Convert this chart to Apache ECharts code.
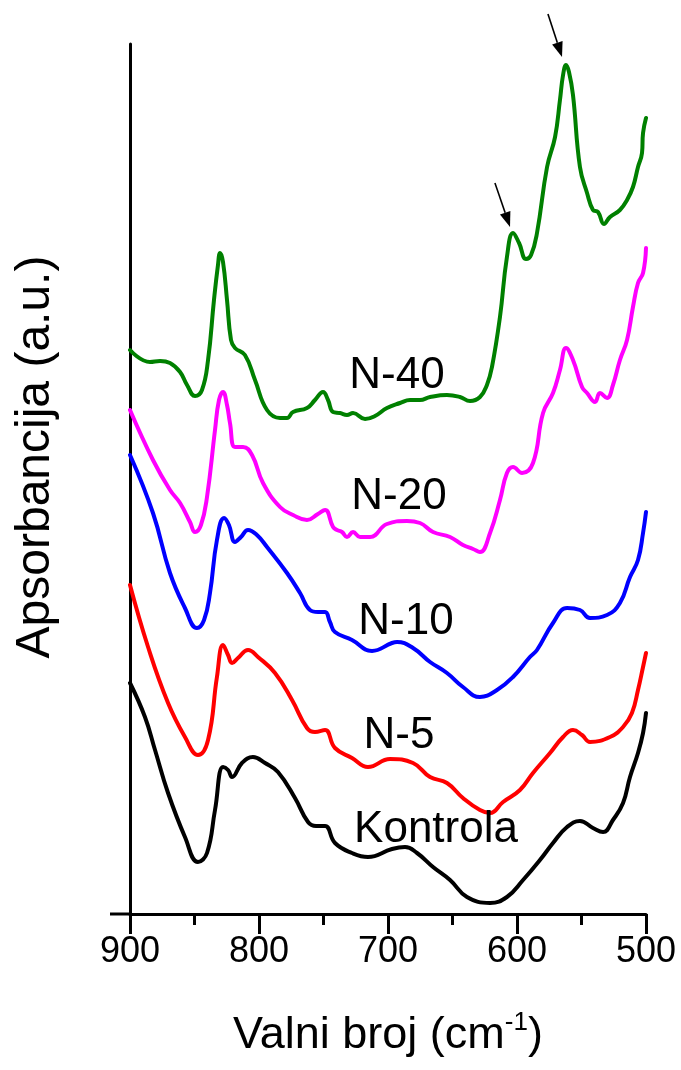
<!DOCTYPE html>
<html><head><meta charset="utf-8">
<script src="https://cdn.jsdelivr.net/npm/echarts@6/dist/echarts.min.js"></script>
<style>html,body{margin:0;padding:0;background:#fff}#c{width:681px;height:1070px}</style>
</head><body><div id="c"></div>
<script>
// Wavenumber (cm-1) and absorbance (a.u., offset for stacking) for each spectrum
const wnN40 = [900,884.5,876.7,869.0,861.2,855.8,849.6,844.2,839.5,834.9,831.8,830.2,827.9,824.8,821.7,818.6,810.9,803.1,793.8,783.7,778.3,773.6,762.8,756.6,750.4,746.5,742.6,737.2,731.8,727.1,717.8,710.1,700.8,690.7,682.9,675.2,667.4,654.3,644.2,636.4,628.7,623.3,619.4,613.2,607.8,603.1,598.4,593.0,589.1,584.5,576.7,570.5,566.7,564.3,562.0,559.7,556.6,551.2,545.7,541.1,537.2,532.6,527.9,520.2,514.7,510.1,506.2,503.1,502.3,500];
const absN40 = [56.4,55.2,55.3,55.1,54.2,52.9,51.8,52.4,55.4,61.4,64.9,66.1,65.2,61.4,57.4,56.6,55.9,53.4,50.4,49.6,49.6,50.2,50.6,51.4,52.2,51.4,50.2,50.1,49.9,50.1,49.5,49.8,50.6,51.1,51.4,51.4,51.7,51.9,51.7,51.3,51.7,52.9,54.7,59.7,65.7,68.1,67.1,65.5,65.9,68.1,74.7,77.7,81.4,83.9,84.9,84.2,81.9,74.7,72.1,70.4,70.2,69.0,69.7,70.4,71.4,72.7,74.7,76.1,78.1,79.6];

const wnN20 = [900,882.2,869.0,861.2,853.5,849.6,845.0,840.3,834.1,831.0,827.9,824.8,822.5,818.6,812.4,805.4,796.9,783.7,773.6,762.8,754.3,748.8,742.6,739.5,735.7,731.8,727.1,721.7,713.9,700.8,685.3,675.2,665.1,651.9,641.9,634.1,628.7,620.9,613.2,607.8,603.1,596.1,587.6,579.8,572.1,566.7,562.0,556.6,549.6,545.7,539.5,535.7,530.2,525.6,520.2,514.7,510.1,506.2,502.3,500];
const absN20 = [50.4,45.4,42.4,41.1,39.2,38.2,38.9,41.7,48.4,51.4,52.2,50.9,49.1,46.7,46.7,45.9,43.1,40.7,39.9,39.4,40.0,40.4,38.7,38.4,38.2,37.7,38.2,37.7,37.7,39.0,39.3,39.1,38.2,37.7,36.9,36.5,36.2,38.1,41.4,44.1,44.7,44.1,45.1,50.1,52.1,54.4,56.6,55.4,52.7,52.1,51.2,52.1,51.6,52.9,55.4,57.4,60.7,63.1,64.1,66.6];

const wnN10 = [900,882.2,869.0,857.4,848.1,842.6,838.0,832.6,827.1,823.3,818.6,814.0,808.5,801.6,793.8,778.3,768.2,760.5,754.3,748.8,745.0,741.1,727.9,712.4,696.9,693.0,680.6,667.4,654.3,641.9,628.7,615.5,603.1,590.0,584.5,572.1,561.2,551.2,543.4,530.2,520.2,512.4,506.2,502.3,500];
const absN10 = [45.9,40.1,34.1,30.6,28.6,29.4,32.1,37.4,39.6,38.9,37.2,37.7,38.4,37.9,36.7,34.1,32.1,30.4,30.2,30.2,29.2,28.2,27.4,26.3,27.1,27.2,26.6,25.2,24.1,22.7,21.7,22.4,23.7,25.7,26.4,29.1,30.6,30.4,29.6,29.9,31.1,33.7,35.4,38.1,40.2];

const wnN5 = [900,886.0,870.5,857.4,847.3,839.5,832.6,827.9,824.0,820.9,816.3,808.5,800.8,787.6,774.4,762.8,756.6,748.8,741.1,727.9,715.5,698.4,680.6,667.4,654.3,641.9,628.7,620.9,610.8,597.7,587.6,574.4,564.3,556.6,549.6,543.4,527.9,517.8,510.9,506.2,502.3,500];
const absN5 = [32.9,26.7,21.1,17.7,15.9,17.4,23.7,26.9,25.9,25.1,25.6,26.4,25.7,24.1,21.4,18.6,18.2,18.4,16.6,15.6,14.7,15.5,15.1,13.7,13.1,11.6,10.4,10.1,11.2,12.4,14.1,16.1,17.7,18.4,17.9,17.2,17.7,18.7,20.1,22.4,24.7,26.1];

const wnKontrola = [900,888.4,880.6,870.5,857.4,847.3,840.3,834.1,827.9,824.0,820.9,813.2,804.7,795.3,785.3,772.1,762.0,755.8,748.8,741.1,727.9,715.5,696.9,686.8,677.5,665.1,651.9,638.8,620.9,607.8,595.3,582.2,572.1,561.2,551.2,541.1,533.3,525.6,517.8,512.4,506.2,502.3,500];
const absKontrola = [23.1,19.7,16.4,12.1,7.7,5.2,6.1,10.4,14.7,14.4,13.7,15.1,15.7,15.1,14.2,11.6,9.2,8.8,8.8,7.1,6.1,5.7,6.5,6.7,6.1,4.7,3.4,1.7,1.1,1.7,3.4,5.4,7.1,8.7,9.3,8.6,8.2,9.4,11.1,13.7,16.1,18.1,20.1];

const seriesNames = ['Kontrola','N-5','N-10','N-20','N-40'];
const xTickValues = [900,800,700,600,500];
// arrows marking the two peaks of N-40 (data coordinates)
const arrowFrom = [[576.0,90.0],[617.1,73.1]];
const arrowTo = [[565.1,85.7],[605.4,68.7]];

const FONT = '"Liberation Sans", Arial, sans-serif';
const colors = {'Kontrola':'#000000','N-5':'#ff0000','N-10':'#0000ff','N-20':'#ff00ff','N-40':'#008000'};
const dataMap = {
  'Kontrola':[wnKontrola,absKontrola],
  'N-5':[wnN5,absN5],
  'N-10':[wnN10,absN10],
  'N-20':[wnN20,absN20],
  'N-40':[wnN40,absN40]
};
function pairs(w,a){return w.map((x,i)=>[x,a[i]]);}

const chart = echarts.init(document.getElementById('c'), null, {renderer:'canvas'});
const series = seriesNames.map(n=>({
  name:n, type:'line', showSymbol:false, smooth:0.45,
  data:pairs(dataMap[n][0],dataMap[n][1]),
  lineStyle:{color:colors[n], width:4, join:'round', cap:'round'}, itemStyle:{color:colors[n]},
  clip:false, z:3
}));

const labelPos = [
  {t:'N-40', x:397, y:376},
  {t:'N-20', x:399, y:497},
  {t:'N-10', x:406, y:622},
  {t:'N-5', x:399, y:736},
  {t:'Kontrola', x:436, y:830}
];

chart.setOption({
  animation:false,
  backgroundColor:'#fff',
  grid:{left:130, right:35, top:44, bottom:156, containLabel:false},
  xAxis:{
    type:'value', min:500, max:900, interval:100, inverse:true,
    axisLine:{show:true, onZero:false, lineStyle:{color:'#000', width:3}},
    axisTick:{show:true, inside:false, length:20, lineStyle:{color:'#000', width:3}},
    minorTick:{show:true, splitNumber:2, length:11, lineStyle:{color:'#000', width:3}},
    splitLine:{show:false}, minorSplitLine:{show:false},
    axisLabel:{color:'#000', fontSize:36, fontFamily:FONT, margin:20,
      formatter:v=>xTickValues.includes(v)?String(v):''},
    name:'{t|Valni broj (cm}{s|-1}{t|)}', nameLocation:'middle', nameGap:96,
    nameTextStyle:{color:'#000', fontFamily:FONT,
      rich:{t:{fontSize:45, fontFamily:FONT, color:'#000', lineHeight:52},
            s:{fontSize:26, fontFamily:FONT, color:'#000', verticalAlign:'top', lineHeight:52}}}
  },
  yAxis:{
    type:'value', min:0, max:87,
    axisLine:{show:true, onZero:false, lineStyle:{color:'#000', width:3}},
    axisTick:{show:false}, axisLabel:{show:false}, splitLine:{show:false}
  },
  series:series
});

// extra graphic: x-axis stub left of y axis, series labels, y-axis title, arrows
const g = [];
g.push({type:'line', shape:{x1:110, y1:914, x2:130, y2:914}, style:{stroke:'#000', lineWidth:3}, z:10});
labelPos.forEach(l=>g.push({type:'text', x:l.x, y:l.y, style:{text:l.t, fill:'#000', font:'44px '+FONT, textAlign:'center', textVerticalAlign:'middle'}, z:10}));
g.push({type:'text', x:36, y:457, rotation:Math.PI/2, style:{text:'Apsorbancija (a.u.)', fill:'#000', font:'48px '+FONT, textAlign:'center', textVerticalAlign:'middle'}, z:10});
arrowFrom.forEach((f,i)=>{
  const S = chart.convertToPixel({gridIndex:0}, f);
  const T = chart.convertToPixel({gridIndex:0}, arrowTo[i]);
  const dx=T[0]-S[0], dy=T[1]-S[1], len=Math.hypot(dx,dy);
  const ux=dx/len, uy=dy/len, L=15, W=5.5;
  const B=[T[0]-ux*L, T[1]-uy*L];
  g.push({type:'line', shape:{x1:S[0],y1:S[1],x2:B[0],y2:B[1]}, style:{stroke:'#000', lineWidth:1.6}, z:10});
  g.push({type:'polygon', shape:{points:[[T[0],T[1]],[B[0]-uy*W,B[1]+ux*W],[B[0]+uy*W,B[1]-ux*W]]}, style:{fill:'#000'}, z:10});
});
chart.setOption({graphic:g});
</script>
</body></html>
